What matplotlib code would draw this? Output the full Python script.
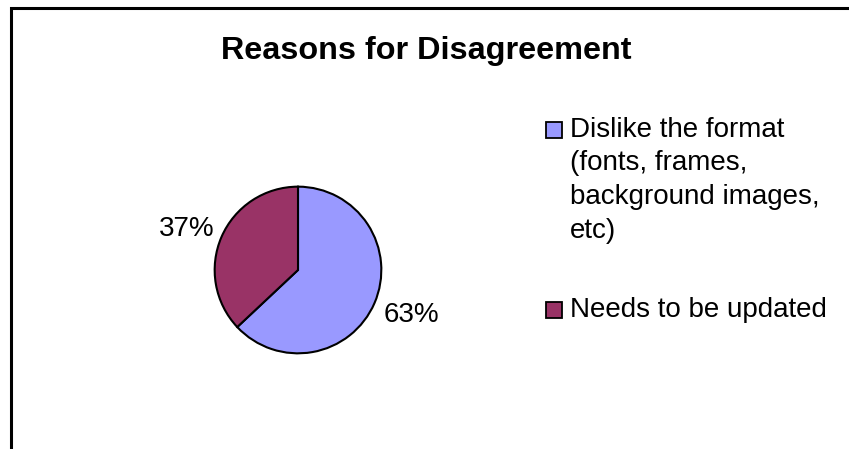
import matplotlib.pyplot as plt
from matplotlib.patches import Rectangle

# Udział powodów niezgody
categories = ["Dislike the format\n(fonts, frames,\nbackground images,\netc)", "Needs to be updated"]
values = [63, 37]
colors = ["#9999FF", "#993366"]
title = "Reasons for Disagreement"

W, H = 849, 449
plt.rcParams['font.family'] = ['Liberation Sans', 'DejaVu Sans']

fig = plt.figure(figsize=(W / 100, H / 100), dpi=100)
fig.patch.set_facecolor('white')


def fx(px):
    return px / W


def fy(py):
    return 1 - py / H


# ramka wykresu (widoczna tylko góra i lewa krawędź)
fig.patches.append(Rectangle((fx(10.5), -0.2), 2, fy(8) + 0.2, transform=fig.transFigure,
                             fill=False, edgecolor='black', linewidth=2.2))

fig.text(0.5015, fy(51), title, ha='center', va='center', fontsize=23.3, fontweight='bold')

# koło
cx, cy, r = 298, 270, 85
ax = fig.add_axes([fx(cx - r), fy(cy + r), fx(2 * r), (2 * r) / H])
labels = [f"{v}%" for v in values]
wedges, texts = ax.pie(values, colors=colors, labels=labels, startangle=90, counterclock=False,
                       labeldistance=1.1, wedgeprops=dict(edgecolor='black', linewidth=1.5),
                       textprops=dict(fontsize=20))
# etykiety procentowe trochę dalej od koła, jak w Excelu
texts[0].set_position((1.03, -0.54))
texts[1].set_position((-1.0, 0.49))
ax.set_xlim(-1.02, 1.02)
ax.set_ylim(-1.02, 1.02)
ax.set_aspect('equal')

# legenda rysowana ręcznie
legend_y = [130, 310]
line_step = 33.5
for cat, col, y0 in zip(categories, colors, legend_y):
    fig.patches.append(Rectangle((fx(545.5), fy(y0 + 8)), 16 / W, 16 / H, transform=fig.transFigure,
                                 facecolor=col, edgecolor='black', linewidth=1.3))
    for i, line in enumerate(cat.split('\n')):
        fig.text(fx(570), fy(y0 + i * line_step), line, ha='left', va='center', fontsize=20)

plt.savefig('out.png', dpi=100)
plt.close()
